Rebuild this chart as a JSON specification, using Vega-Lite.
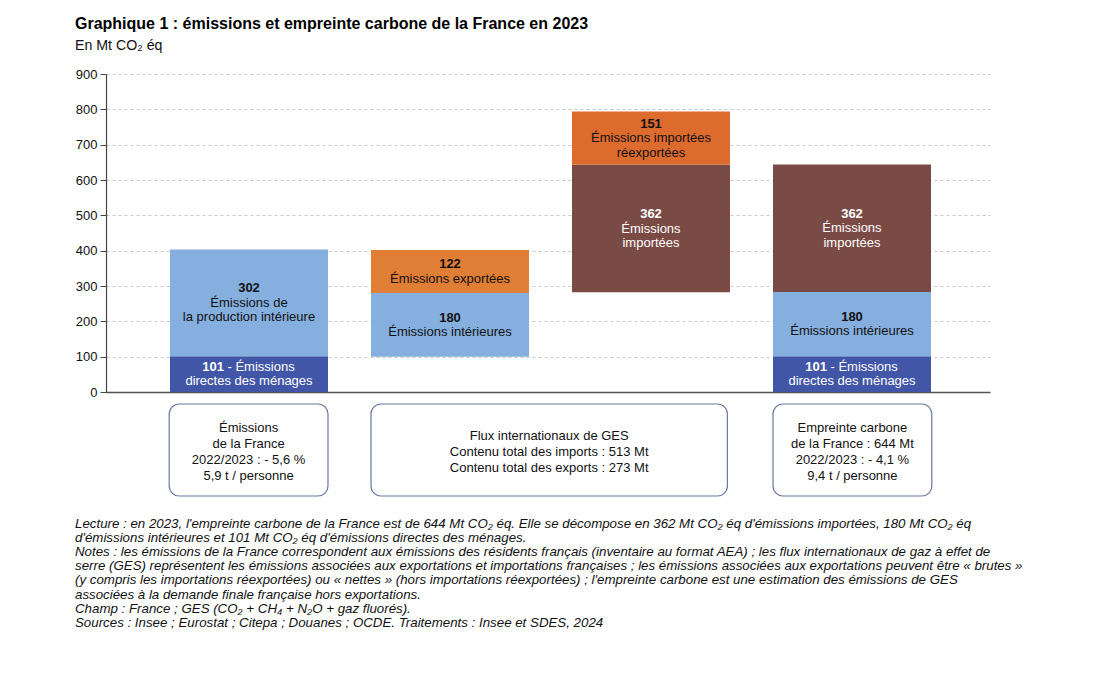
{
  "$schema": "https://vega.github.io/schema/vega-lite/v6.json",
  "background": "white",
  "padding": {"left": 75, "top": 15, "right": 5, "bottom": 5},
  "config": {
    "font": "Liberation Sans",
    "view": {"stroke": null},
    "concat": {"spacing": 4},
    "axisY": {
      "tickCount": 12,
      "grid": true,
      "gridDash": [3, 3],
      "gridColor": "#c8c8c8",
      "gridWidth": 1,
      "domainColor": "#444444",
      "domainWidth": 1.2,
      "tickColor": "#444444",
      "tickSize": 6,
      "labelFontSize": 13,
      "labelColor": "#111111",
      "labelPadding": 3,
      "labelOverlap": false
    }
  },
  "title": {
    "text": "Graphique 1 : émissions et empreinte carbone de la France en 2023",
    "subtitle": "En Mt CO₂ éq",
    "anchor": "start",
    "frame": "bounds",
    "dx": 0,
    "fontSize": 16,
    "fontWeight": "bold",
    "color": "#000000",
    "subtitleFontSize": 14.2,
    "subtitleColor": "#111111",
    "subtitlePadding": 7,
    "offset": 15
  },
  "datasets": {
    "bars": [
      {"col": 1, "seg": "dir", "y0": 0, "y1": 101, "num": "101", "lead": "- Émissions", "desc": ["directes des ménages"]},
      {"col": 1, "seg": "int", "y0": 101, "y1": 403, "num": "302", "desc": ["Émissions de", "la production intérieure"]},
      {"col": 2, "seg": "int", "y0": 100, "y1": 280, "num": "180", "desc": ["Émissions intérieures"]},
      {"col": 2, "seg": "exp", "y0": 280, "y1": 402, "num": "122", "desc": ["Émissions exportées"]},
      {"col": 3, "seg": "imp", "y0": 282, "y1": 643, "num": "362", "desc": ["Émissions", "importées"]},
      {"col": 3, "seg": "reexp", "y0": 643, "y1": 794, "num": "151", "desc": ["Émissions importées", "réexportées"]},
      {"col": 4, "seg": "dir", "y0": 0, "y1": 101, "num": "101", "lead": "- Émissions", "desc": ["directes des ménages"]},
      {"col": 4, "seg": "int", "y0": 101, "y1": 283, "num": "180", "desc": ["Émissions intérieures"]},
      {"col": 4, "seg": "imp", "y0": 283, "y1": 644, "num": "362", "desc": ["Émissions", "importées"]}
    ],
    "boxes": [
      {"from": 0.603, "to": 1.393, "lines": ["Émissions", "de la France", "2022/2023 : - 5,6 %", "5,9 t / personne"]},
      {"from": 1.607, "to": 3.38, "lines": ["Flux internationaux de GES", "Contenu total des imports : 513 Mt", "Contenu total des exports : 273 Mt"]},
      {"from": 3.607, "to": 4.397, "lines": ["Empreinte carbone", "de la France : 644 Mt", "2022/2023 : - 4,1 %", "9,4 t / personne"]}
    ]
  },
  "resolve": {"scale": {"x": "independent", "y": "independent", "color": "independent"}},
  "vconcat": [
    {
      "width": 884,
      "height": 318,
      "data": {"name": "bars"},
      "transform": [{"calculate": "(datum.y0 + datum.y1) / 2", "as": "mid"}],
      "encoding": {
        "x": {
          "field": "col",
          "type": "quantitative",
          "scale": {"domain": [0.2886, 4.6866], "nice": false, "zero": false, "padding": 0},
          "axis": {"domain": true, "domainColor": "#555555", "domainWidth": 1.5, "labels": false, "ticks": false, "grid": false, "title": null}
        }
      },
      "layer": [
        {
          "mark": {"type": "bar", "width": 158},
          "encoding": {
            "y": {
              "field": "y0",
              "type": "quantitative",
              "scale": {"domain": [0, 900], "nice": false},
              "axis": {"values": [0, 100, 200, 300, 400, 500, 600, 700, 800, 900], "tickCount": 12, "title": null}
            },
            "y2": {"field": "y1"},
            "color": {
              "field": "seg",
              "type": "nominal",
              "scale": {"domain": ["dir", "int", "exp", "imp", "reexp"], "range": ["#4156A6", "#85AFDF", "#E07E35", "#7A4A44", "#DD6B2E"]},
              "legend": null
            }
          }
        },
        {
          "transform": [{"filter": "!datum.lead && length(datum.desc) == 1"}],
          "mark": {"type": "text", "fontSize": 13, "fontWeight": "bold", "dy": -7.25, "baseline": "middle"},
          "encoding": {
            "y": {"field": "mid", "type": "quantitative", "axis": {"values": [0, 100, 200, 300, 400, 500, 600, 700, 800, 900], "tickCount": 12, "title": null}},
            "text": {"field": "num"},
            "color": {"condition": {"test": "datum.seg == 'dir' || datum.seg == 'imp'", "value": "white"}, "value": "#111111"}
          }
        },
        {
          "transform": [{"filter": "!datum.lead && length(datum.desc) == 1"}],
          "mark": {"type": "text", "fontSize": 13, "lineHeight": 14.5, "dy": 7.25, "baseline": "middle"},
          "encoding": {
            "y": {"field": "mid", "type": "quantitative", "axis": {"values": [0, 100, 200, 300, 400, 500, 600, 700, 800, 900], "tickCount": 12, "title": null}},
            "text": {"field": "desc"},
            "color": {"condition": {"test": "datum.seg == 'dir' || datum.seg == 'imp'", "value": "white"}, "value": "#111111"}
          }
        },
        {
          "transform": [{"filter": "!datum.lead && length(datum.desc) == 2"}],
          "mark": {"type": "text", "fontSize": 13, "fontWeight": "bold", "dy": -14.5, "baseline": "middle"},
          "encoding": {
            "y": {"field": "mid", "type": "quantitative", "axis": {"values": [0, 100, 200, 300, 400, 500, 600, 700, 800, 900], "tickCount": 12, "title": null}},
            "text": {"field": "num"},
            "color": {"condition": {"test": "datum.seg == 'dir' || datum.seg == 'imp'", "value": "white"}, "value": "#111111"}
          }
        },
        {
          "transform": [{"filter": "!datum.lead && length(datum.desc) == 2"}],
          "mark": {"type": "text", "fontSize": 13, "lineHeight": 14.5, "dy": 0, "baseline": "middle"},
          "encoding": {
            "y": {"field": "mid", "type": "quantitative", "axis": {"values": [0, 100, 200, 300, 400, 500, 600, 700, 800, 900], "tickCount": 12, "title": null}},
            "text": {"field": "desc"},
            "color": {"condition": {"test": "datum.seg == 'dir' || datum.seg == 'imp'", "value": "white"}, "value": "#111111"}
          }
        },
        {
          "transform": [{"filter": "datum.lead"}],
          "mark": {"type": "text", "fontSize": 13, "fontWeight": "bold", "align": "right", "dx": -25, "dy": -7.25, "baseline": "middle", "color": "white"},
          "encoding": {
            "y": {"field": "mid", "type": "quantitative", "axis": {"values": [0, 100, 200, 300, 400, 500, 600, 700, 800, 900], "tickCount": 12, "title": null}},
            "text": {"field": "num"}
          }
        },
        {
          "transform": [{"filter": "datum.lead"}],
          "mark": {"type": "text", "fontSize": 13, "align": "left", "dx": -21.5, "dy": -7.25, "baseline": "middle", "color": "white"},
          "encoding": {
            "y": {"field": "mid", "type": "quantitative", "axis": {"values": [0, 100, 200, 300, 400, 500, 600, 700, 800, 900], "tickCount": 12, "title": null}},
            "text": {"field": "lead"}
          }
        },
        {
          "transform": [{"filter": "datum.lead"}],
          "mark": {"type": "text", "fontSize": 13, "dy": 7.25, "baseline": "middle", "color": "white"},
          "encoding": {
            "y": {"field": "mid", "type": "quantitative", "axis": {"values": [0, 100, 200, 300, 400, 500, 600, 700, 800, 900], "tickCount": 12, "title": null}},
            "text": {"field": "desc"}
          }
        }
      ]
    },
    {
      "width": 884,
      "height": 92,
      "data": {"name": "boxes"},
      "transform": [{"calculate": "(datum.from + datum.to) / 2", "as": "center"}],
      "title": {
        "text": [
          "Lecture : en 2023, l'empreinte carbone de la France est de 644 Mt CO₂ éq. Elle se décompose en 362 Mt CO₂ éq d'émissions importées, 180 Mt CO₂ éq",
          "d'émissions intérieures et 101 Mt CO₂ éq d'émissions directes des ménages.",
          "Notes : les émissions de la France correspondent aux émissions des résidents français (inventaire au format AEA) ; les flux internationaux de gaz à effet de",
          "serre (GES) représentent les émissions associées aux exportations et importations françaises ; les émissions associées aux exportations peuvent être « brutes »",
          "(y compris les importations réexportées) ou « nettes » (hors importations réexportées) ; l'empreinte carbone est une estimation des émissions de GES",
          "associées à la demande finale française hors exportations.",
          "Champ : France ; GES (CO₂ + CH₄ + N₂O + gaz fluorés).",
          "Sources : Insee ; Eurostat ; Citepa ; Douanes ; OCDE. Traitements : Insee et SDES, 2024"
        ],
        "orient": "bottom",
        "anchor": "start",
        "frame": "group",
        "dx": -31,
        "fontSize": 13.3,
        "fontStyle": "italic",
        "fontWeight": "normal",
        "lineHeight": 14.2,
        "offset": 20,
        "color": "#111111"
      },
      "layer": [
        {
          "mark": {"type": "rect", "cornerRadius": 10, "fill": "white", "stroke": "#6a789f", "strokeWidth": 1.2},
          "encoding": {
            "x": {"field": "from", "type": "quantitative", "scale": {"domain": [0.2886, 4.6866], "nice": false, "zero": false, "padding": 0}, "axis": null},
            "x2": {"field": "to"}
          }
        },
        {
          "transform": [{"filter": "length(datum.lines) == 4"}],
          "mark": {"type": "text", "fontSize": 13, "lineHeight": 15.8, "baseline": "middle", "dy": -21.7, "color": "#111111"},
          "encoding": {
            "x": {"field": "center", "type": "quantitative"},
            "text": {"field": "lines"}
          }
        },
        {
          "transform": [{"filter": "length(datum.lines) == 3"}],
          "mark": {"type": "text", "fontSize": 13, "lineHeight": 15.8, "baseline": "middle", "dy": -14, "color": "#111111"},
          "encoding": {
            "x": {"field": "center", "type": "quantitative"},
            "text": {"field": "lines"}
          }
        }
      ]
    }
  ]
}
